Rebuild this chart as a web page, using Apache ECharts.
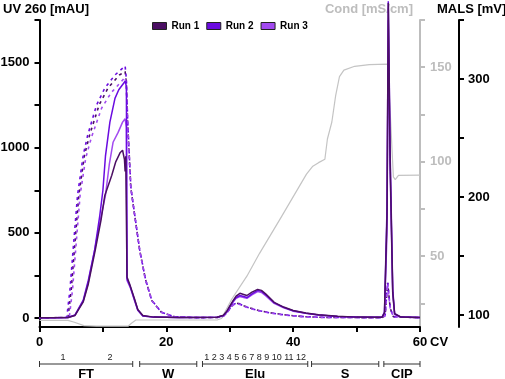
<!DOCTYPE html>
<html lang="en">
<head>
  <meta charset="UTF-8">
  <title>Chromatogram</title>
  <script src="https://cdn.jsdelivr.net/npm/echarts@6.0.0/dist/echarts.min.js"></script>
  <style>
    body{margin:0;background:#fff}
  </style>
</head>
<body>
<div id="main" style="width:505px;height:379px"></div>
<script>
  // ticks / labels
  var cvTicks = [0,10,20,30,40,50,60];
  var cvLabels = [0,20,40,60];
  var uvTicks = [0,250,500,750,1000,1250,1500,1750];
  var uvLabels = [0,500,1000,1500];
  var condTicks = [25,50,75,100,125,150,175];
  var condLabels = [50,100,150];
  var malsTicks = [100,150,200,250,300,350];
  var malsLabels = [100,200,300];

  var runNames = ['Run 1','Run 2','Run 3'];
  var runColors = ['#4b0f63','#6a0be0','#a24af0'];

  // UV 260 [mAU], solid   [CV, mAU]
  var uvRun1 = [[0,2],[4.5,3],[5.6,15],[6.9,95],[7.7,200],[8.8,400],[9.7,575],[10.3,720],[11.4,838],[12,915],[12.7,970],[13.1,985],[13.4,930],[13.5,860],[13.6,950],[13.75,940],[13.8,240],[14.3,190],[15,110],[15.5,50],[16.3,14],[18,5],[22,3],[28,4],[29,16],[29.5,38],[30,70],[30.5,100],[31,128],[31.6,145],[32.2,138],[32.7,132],[33.5,152],[34.4,168],[35,162],[35.7,140],[37,92],[38.5,64],[40,44],[42,29],[44,19],[47,10],[50,5],[54,4],[54.4,30],[54.8,600],[55,1850],[55.3,900],[55.7,150],[56,25],[57,5],[60,3]];
  var uvRun2 = [[0,2],[4.5,3],[5.6,18],[6.9,105],[7.7,222],[8.7,400],[9.5,600],[10,750],[10.4,950],[11.1,1150],[11.9,1290],[12.5,1340],[13,1365],[13.5,1390],[13.7,1360],[13.8,230],[14.3,185],[15,105],[15.5,47],[16.3,12],[18,5],[22,3],[28,4],[29,15],[29.5,35],[30,66],[30.5,96],[31,120],[31.6,132],[32.2,126],[32.7,120],[33.5,142],[34.4,162],[35,157],[35.7,136],[37,90],[38.5,62],[40,42],[42,28],[44,18],[47,9],[50,5],[54,4],[54.4,35],[54.8,650],[55,1860],[55.3,950],[55.7,170],[56,25],[57,5],[60,3]];
  var uvRun3 = [[0,2],[4.5,3],[5.6,16],[6.9,100],[7.7,210],[8.7,400],[9.6,575],[10.4,720],[11,900],[11.6,1032],[12.4,1090],[13.1,1150],[13.5,1170],[13.7,1120],[13.8,220],[14.3,180],[15,100],[15.5,45],[16.3,12],[18,5],[22,3],[28,4],[29,14],[29.5,33],[30,62],[30.5,92],[31,115],[31.6,126],[32.2,120],[32.7,115],[33.5,136],[34.4,155],[35,150],[35.7,130],[37,86],[38.5,60],[40,40],[42,27],[44,17],[47,9],[50,5],[54,4],[54.4,25],[54.8,500],[55,1750],[55.3,850],[55.7,140],[56,20],[57,5],[60,3]];

  // MALS [mV], dashed   [CV, mV]
  var malsRun1 = [[0,97.5],[4.5,98.2],[5,121.2],[5.5,155.3],[6.2,201.6],[7.1,235.6],[7.9,252.5],[9.4,278],[10.8,292.4],[12.6,303.4],[13.5,306.4],[13.7,296],[13.9,263],[14.4,208],[15,185],[15.8,155],[16.7,130.5],[17.7,112.5],[19.2,102.6],[21.3,98.7],[25,97.9],[28,98.1],[29,99.2],[29.5,101.8],[30,105.6],[30.5,109],[31,110.4],[31.6,109.6],[32.3,107.8],[33.1,106.2],[34.5,104.1],[36.3,102.1],[38,100.8],[40,99.5],[42,98.7],[45,98.1],[54,97.9],[54.5,99.7],[54.9,127.5],[55.3,106],[55.8,98.7],[60,97.9]];
  var malsRun2 = [[0,97.5],[4.3,98.2],[4.8,121.2],[5.3,155.3],[6,201.6],[6.9,235.6],[7.6,252.5],[9,278],[10.3,292.4],[11.9,303.4],[13.5,311.1],[13.7,299.9],[13.9,265.2],[14.4,208.8],[15,185.7],[15.8,155.3],[16.7,130.8],[17.7,112.7],[19.2,102.6],[21.3,98.7],[25,97.9],[28,98.1],[29,99.2],[29.5,101.8],[30,105.5],[30.5,108.8],[31,110.2],[31.6,109.4],[32.3,107.6],[33.1,106],[34.5,104],[36.3,102],[38,100.7],[40,99.5],[42,98.7],[45,98.1],[54,97.9],[54.5,99.7],[54.9,127.9],[55.3,106.2],[55.8,98.7],[60,97.9]];
  var malsRun3 = [[0,97.5],[4.7,98.2],[5.2,121.2],[5.7,155.3],[6.4,201.6],[7.3,233.4],[8.2,250.8],[9.8,275.4],[11.3,288.4],[13.5,301.4],[13.7,292],[13.9,260],[14.4,207],[15,184],[15.8,154.5],[16.7,130],[17.7,112.3],[19.2,102.4],[21.3,98.6],[25,97.9],[28,98.1],[29,99.1],[29.5,101.6],[30,105.2],[30.5,108.4],[31,109.8],[31.6,109],[32.3,107.3],[33.1,105.8],[34.5,103.8],[36.3,101.9],[38,100.6],[40,99.4],[42,98.6],[45,98.1],[54,97.9],[54.5,99.5],[54.9,126.5],[55.3,105.8],[55.8,98.6],[60,97.9]];

  // Conductivity [mS/cm]
  var cond = [[0,16],[4.5,16],[5.5,15],[7,13.2],[9,13],[14,13],[14.5,14.5],[15.2,16.2],[20,16.2],[28,16.2],[28.7,17],[30.3,27.2],[32.7,39.4],[34.7,51.5],[38,70],[42.1,93.4],[43.1,97.6],[44,99.5],[45,101.3],[45.4,112],[46.1,121],[46.7,135],[47.3,145],[48,148.5],[49.7,150.5],[52,151.4],[54.9,151.6],[55.1,140],[55.8,92],[56.1,90.5],[56.6,92.8],[60,92.9]];

  // fraction blocks
  var sectionNames = ['FT','W','Elu','S','CIP'];
  var sectionRanges = [[0,14.7],[15.8,24.8],[25.7,42.3],[42.9,53.5],[54.3,60]];
  var fractionText = ['1','2','1 2 3 4 5 6 7 8 9 10 11 12'];
  var fractionPos = [3.7,11.1,34.0];

  var main = echarts.init(document.getElementById('main'));
  var FONT = 'Arial, "Liberation Sans", sans-serif';
  var plain = function(v){ return String(v); };

  var series = [{
    type:'line', name:'Cond', xAxisIndex:0, yAxisIndex:1, data:cond,
    showSymbol:false, silent:true, z:1,
    lineStyle:{color:'#c4c4c4', width:1.2}
  }];
  var malsData = [malsRun1, malsRun2, malsRun3];
  var uvData = [uvRun1, uvRun2, uvRun3];
  for (var i = 0; i < 3; i++) {
    series.push({
      type:'line', name:runNames[i], xAxisIndex:0, yAxisIndex:2, data:malsData[i],
      showSymbol:false, z:2, itemStyle:{color:runColors[i]},
      lineStyle:{color:runColors[i], width:1.6, type:[3,4], dashOffset:i*2, cap:'butt'}
    });
  }
  for (var j = 2; j >= 0; j--) {
    series.push({
      type:'line', name:runNames[j], xAxisIndex:0, yAxisIndex:0, data:uvData[j],
      showSymbol:false, clip:false, z:3, itemStyle:{color:runColors[j]},
      lineStyle:{color:runColors[j], width:1.5}
    });
  }
  series.push({
    type:'custom', xAxisIndex:1, yAxisIndex:3, silent:true,
    data:sectionRanges,
    renderItem:function(params, api){
      var p0 = api.coord([api.value(0), 0.5]);
      var p1 = api.coord([api.value(1), 0.5]);
      var y = p0[1];
      var st = {stroke:'#333', lineWidth:1};
      return {type:'group', children:[
        {type:'line', shape:{x1:p0[0], y1:y, x2:p1[0], y2:y}, style:st},
        {type:'line', shape:{x1:p0[0], y1:y-3, x2:p0[0], y2:y+3}, style:st},
        {type:'line', shape:{x1:p1[0], y1:y-3, x2:p1[0], y2:y+3}, style:st},
        {type:'text', x:(p0[0]+p1[0])/2, y:y+4, style:{text:sectionNames[params.dataIndex], font:'bold 13px '+FONT, fill:'#000', align:'center', verticalAlign:'top'}}
      ]};
    }
  });
  series.push({
    type:'custom', xAxisIndex:1, yAxisIndex:3, silent:true,
    data:fractionPos,
    renderItem:function(params, api){
      var p = api.coord([api.value(0), 0.5]);
      return {type:'text', x:p[0], y:p[1]-2, style:{text:fractionText[params.dataIndex], font:'9px '+FONT, fill:'#222', align:'center', verticalAlign:'bottom'}};
    }
  });

  main.setOption({
    animation:false,
    textStyle:{fontFamily:FONT},
    legend:{
      data:runNames, left:147, top:16, icon:'rect', itemWidth:14, itemHeight:7, itemGap:7,
      itemStyle:{borderColor:'#222', borderWidth:1},
      textStyle:{fontSize:10, fontWeight:'bold', color:'#000'}
    },
    grid:[
      {left:39.5, right:85, top:20, bottom:52, outerBoundsMode:'none', containLabel:false},
      {left:39.5, right:85, top:354, height:20, outerBoundsMode:'none', containLabel:false}
    ],
    xAxis:[{
      type:'value', gridIndex:0, min:0, max:60,
      axisLine:{onZero:false, lineStyle:{color:'#000', width:2}},
      axisTick:{customValues:cvTicks, length:5, lineStyle:{color:'#000', width:2}},
      axisLabel:{customValues:cvLabels, formatter:plain, margin:9, fontSize:13, fontWeight:'bold', color:'#000'},
      splitLine:{show:false}
    },{
      type:'value', gridIndex:1, min:0, max:60, show:false
    }],
    yAxis:[{
      type:'value', gridIndex:0, min:-53, max:1750, position:'left',
      axisLine:{show:true, onZero:false, lineStyle:{color:'#000', width:2}},
      axisTick:{show:true, customValues:uvTicks, length:5, lineStyle:{color:'#000', width:2}},
      axisLabel:{customValues:uvLabels, formatter:plain, margin:10, fontSize:13, fontWeight:'bold', color:'#000'},
      splitLine:{show:false}
    },{
      type:'value', gridIndex:0, min:12.5, max:175, position:'right', offset:0,
      axisLine:{show:true, onZero:false, lineStyle:{color:'#bdbdbd', width:2}},
      axisTick:{show:true, customValues:condTicks, length:5, lineStyle:{color:'#bdbdbd', width:2}},
      axisLabel:{customValues:condLabels, formatter:plain, margin:10, fontSize:13, fontWeight:'bold', color:'#bdbdbd'},
      splitLine:{show:false}
    },{
      type:'value', gridIndex:0, min:90, max:350, position:'right', offset:39,
      axisLine:{show:true, onZero:false, lineStyle:{color:'#000', width:2}},
      axisTick:{show:true, customValues:malsTicks, length:5, lineStyle:{color:'#000', width:2}},
      axisLabel:{customValues:malsLabels, formatter:plain, margin:9, fontSize:13, fontWeight:'bold', color:'#000'},
      splitLine:{show:false}
    },{
      type:'value', gridIndex:1, min:0, max:1, show:false
    }],
    graphic:[
      {type:'text', left:3, top:3, style:{text:'UV 260 [mAU]', font:'bold 13px '+FONT, fill:'#000'}},
      {type:'text', right:92, top:3, style:{text:'Cond [mS/cm]', font:'bold 13px '+FONT, fill:'#bdbdbd'}},
      {type:'text', left:437, top:3, style:{text:'MALS [mV]', font:'bold 13px '+FONT, fill:'#000'}},
      {type:'text', left:430, top:336, style:{text:'CV', font:'bold 13px '+FONT, fill:'#000'}}
    ],
    series:series
  });
</script>
</body>
</html>
